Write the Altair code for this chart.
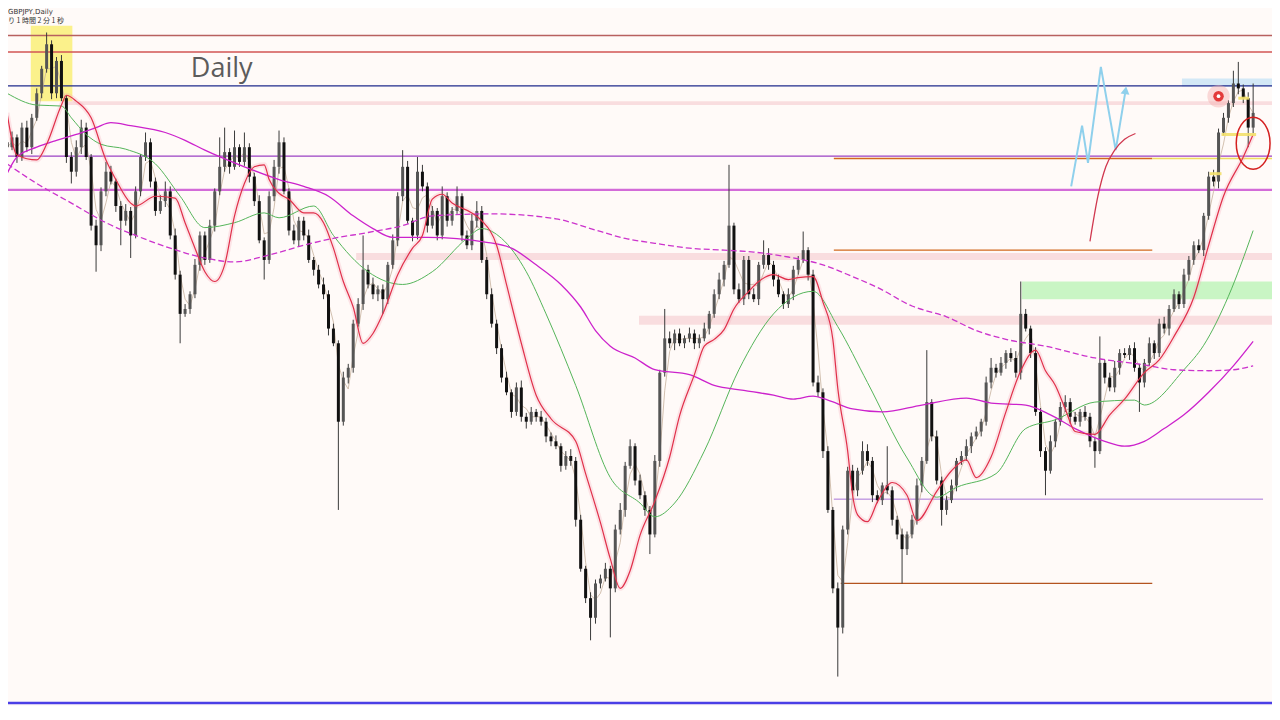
import altair as alt
import pandas as pd

# ---------------- data (GBPJPY, daily) ----------------
close = [
    185.0, 186.0, 184.0, 187.0, 185.0, 188.0, 190.5, 193.0, 195.5, 190.5,
    193.8, 190.0, 184.0, 182.5, 185.0, 187.0, 184.0, 177.0, 175.0, 180.5,
    182.5, 181.5, 179.0, 177.5, 178.5, 176.0, 180.5, 184.0, 185.5, 181.5,
    178.5, 179.5, 180.5, 176.0, 172.0, 168.0, 168.5, 170.0, 173.0, 176.0,
    173.5, 177.0, 180.5, 183.0, 184.5, 183.0, 185.0, 183.5, 185.0, 182.0,
    179.5, 175.5, 173.5, 180.0, 183.0, 185.5, 180.5, 176.5, 175.5, 177.5,
    176.0, 173.5, 172.5, 171.0, 170.0, 166.5, 165.0, 157.0, 161.5, 162.5,
    167.0, 169.0, 172.5, 171.0, 170.0, 170.5, 169.5, 173.0, 175.5, 180.0,
    183.0, 177.5, 176.0, 182.5, 181.0, 177.0, 178.5, 176.0, 180.0, 177.5,
    178.5, 180.0, 176.0, 175.0, 177.5, 178.5, 173.5, 170.0, 167.0, 164.5,
    161.5, 160.0, 158.0, 160.5, 157.5, 157.0, 158.0, 157.5, 157.0, 155.5,
    155.0, 154.5, 152.5, 153.5, 153.0, 147.0, 142.0, 139.0, 137.0, 140.5,
    141.0, 142.0, 140.0, 146.0, 148.0, 152.5, 154.5, 151.0, 149.5, 148.0,
    145.5, 153.0, 162.0, 165.5, 165.0, 166.0, 165.0, 165.5, 166.0, 165.0,
    165.5, 166.5, 168.0, 170.0, 171.5, 173.0, 177.0, 170.5, 169.5, 173.5,
    170.0, 169.5, 173.0, 174.0, 173.0, 171.5, 170.0, 169.0, 170.0, 172.5,
    173.5, 174.5, 172.0, 161.0, 160.0, 154.0, 148.0, 140.0, 136.0, 146.0,
    152.0, 150.0, 152.0, 154.0, 153.0, 149.5, 149.0, 150.5, 150.0, 147.0,
    145.5, 144.0, 145.5, 147.0, 150.5, 153.0, 159.0, 155.5, 151.0, 148.0,
    149.0, 150.5, 153.0, 153.5, 154.5, 155.5, 156.0, 157.0, 161.0, 162.5,
    162.0, 163.0, 164.0, 163.5, 162.0, 168.0, 166.5, 164.0, 158.0, 154.0,
    152.0, 155.0, 157.0, 158.5, 159.0, 157.5, 157.0, 158.0, 157.5, 155.0,
    154.0, 163.0, 161.5, 160.5, 162.5, 164.0, 163.8, 164.5, 162.5, 161.0,
    163.0, 165.0, 164.0, 167.0, 166.5, 168.5, 170.0, 169.0, 172.0, 173.5,
    175.0, 174.5, 178.0, 182.0, 181.5, 186.5, 188.0, 189.5, 191.5, 191.0,
    190.0, 187.0, 188.5,
]
first_open = 185.5
# wick lengths in tenths of a yen
up_wick = [
    4, 6, 3, 5, 7, 4, 5, 3, 12, 4,
    4, 6, 3, 5, 7, 8, 5, 3, 6, 4,
    10, 6, 3, 5, 7, 4, 5, 3, 10, 4,
    4, 6, 10, 5, 7, 4, 5, 3, 6, 4,
    4, 6, 3, 30, 25, 4, 17, 3, 15, 4,
    4, 6, 3, 5, 7, 12, 5, 3, 6, 4,
    4, 6, 3, 5, 7, 4, 5, 3, 6, 4,
    4, 6, 35, 5, 7, 4, 5, 3, 6, 4,
    17, 6, 3, 15, 7, 4, 5, 3, 10, 4,
    4, 10, 3, 5, 7, 10, 5, 3, 6, 4,
    4, 6, 3, 5, 7, 4, 5, 3, 6, 4,
    4, 6, 3, 5, 7, 4, 5, 3, 6, 4,
    4, 6, 3, 5, 7, 4, 7, 3, 6, 4,
    4, 6, 3, 30, 7, 4, 5, 3, 6, 4,
    4, 6, 3, 5, 7, 4, 62, 3, 6, 4,
    4, 6, 3, 15, 7, 4, 5, 3, 6, 4,
    4, 19, 3, 5, 7, 4, 5, 3, 6, 4,
    4, 6, 3, 10, 7, 4, 5, 3, 40, 4,
    4, 6, 3, 5, 7, 4, 53, 3, 6, 4,
    4, 6, 3, 5, 7, 4, 5, 3, 6, 10,
    4, 6, 3, 5, 7, 33, 5, 3, 6, 4,
    4, 6, 3, 5, 7, 4, 5, 3, 6, 4,
    4, 27, 3, 5, 7, 4, 5, 3, 6, 4,
    4, 6, 3, 5, 7, 4, 5, 3, 6, 4,
    4, 6, 3, 5, 7, 4, 5, 3, 13, 22,
    4, 6, 30,
]
down_wick = [
    5, 3, 6, 4, 5, 7, 3, 5, 4, 6,
    5, 3, 6, 12, 5, 7, 3, 5, 27, 6,
    5, 3, 6, 25, 5, 23, 3, 5, 4, 6,
    5, 3, 6, 4, 5, 30, 3, 5, 4, 6,
    5, 3, 6, 4, 5, 7, 3, 5, 4, 6,
    5, 3, 20, 4, 5, 7, 3, 5, 4, 6,
    5, 3, 6, 4, 5, 7, 3, 90, 4, 6,
    5, 3, 6, 4, 5, 7, 15, 5, 4, 6,
    5, 3, 6, 4, 5, 7, 3, 5, 4, 6,
    5, 3, 6, 4, 5, 7, 3, 5, 4, 6,
    5, 3, 6, 4, 5, 7, 3, 5, 4, 6,
    5, 3, 6, 4, 5, 7, 3, 5, 23, 6,
    5, 3, 50, 4, 5, 7, 3, 5, 4, 6,
    20, 3, 6, 4, 5, 7, 3, 5, 4, 6,
    5, 3, 6, 4, 5, 7, 3, 5, 4, 6,
    5, 3, 6, 4, 5, 7, 3, 5, 4, 6,
    5, 3, 6, 4, 5, 7, 3, 5, 50, 6,
    5, 3, 6, 4, 5, 7, 3, 5, 4, 6,
    5, 35, 6, 4, 5, 7, 3, 5, 4, 16,
    5, 3, 6, 4, 5, 7, 3, 5, 4, 6,
    5, 3, 6, 4, 5, 7, 3, 5, 4, 6,
    25, 3, 6, 4, 5, 7, 3, 5, 4, 6,
    17, 3, 6, 4, 5, 7, 3, 5, 4, 30,
    5, 3, 6, 4, 5, 7, 3, 5, 4, 6,
    5, 3, 6, 4, 5, 7, 3, 5, 4, 6,
    5, 20, 6,
]

# moving averages (bar index, price)
red_i = [0, 2, 6, 8, 11, 12, 14, 17, 20, 22, 25, 26, 30, 34, 36, 38, 40, 42, 44, 46,
         48, 50, 52, 53, 55, 57, 60, 62, 64, 66, 68, 70, 72, 74, 76, 79, 82, 84, 86, 88,
         90, 94, 96, 99, 101, 104, 107, 110, 115, 117, 120, 122, 124, 126, 128, 131, 134,
         136, 139, 141, 143, 145, 147, 150, 152, 155, 158, 160, 163, 165, 167, 168, 170,
         171, 172, 174, 176, 179, 182, 184, 188, 191, 194, 196, 199, 202, 205, 208, 210,
         212, 214, 216, 220, 223, 226, 230, 233, 236, 240, 243, 246, 250, 252]
red_p = [188.5, 184.2, 183.7, 185.3, 189.3, 190.3, 189.7, 188.0, 183.7, 181.7, 179.3, 179.0,
         180.0, 179.8, 177.3, 174.7, 172.3, 171.3, 173.0, 178.0,
         181.3, 183.0, 183.2, 181.7, 180.3, 179.7, 178.3, 178.3, 177.3, 174.7, 171.3, 168.7,
         165.0, 166.0, 168.0, 172.0, 174.7, 176.0, 179.7, 180.2,
         179.3, 178.3, 177.5, 175.0, 171.0, 165.0, 159.7, 157.3, 155.0, 151.7, 146.7, 143.0,
         140.0, 141.8, 145.4, 148.9, 153.4,
         157.6, 161.8, 164.7, 165.4, 166.4, 168.5, 170.3, 171.3, 172.0, 171.5, 171.7, 171.8,
         169.2, 165.4, 160.4, 154.0,
         149.5, 147.5, 146.8, 148.8, 150.8, 149.5, 146.9, 149.9, 152.0, 153.1, 151.3, 153.4,
         158.0, 162.2, 164.3, 162.2,
         160.7, 158.3, 156.0, 155.7, 157.7, 159.3, 162.0, 163.3, 165.7, 169.7, 175.0, 180.0,
         184.0, 186.3]

green_i = [0, 6, 11, 13, 16, 19, 24, 30, 35, 40, 46, 52, 55, 62, 66, 73, 80, 86, 93, 96,
           100, 105, 109, 115, 122, 128, 131, 135, 141, 148, 155, 163, 168, 174, 182, 188,
           192, 200, 206, 212, 220, 228, 230, 238, 242, 247, 252]
green_p = [190.5, 189.3, 189.2, 188.0, 186.3, 185.3, 184.8, 183.3, 180.0, 176.8, 177.3,
           178.3, 177.8, 179.0, 176.0, 172.3, 171.0, 172.3, 175.7, 176.7,
           175.7, 172.3, 168.0, 160.7, 151.3, 148.7, 147.3, 148.7, 154.0, 162.3, 168.0,
           170.3, 166.7, 161.0, 153.3, 149.3,
           150.3, 151.7, 156.3, 157.2, 159.0, 159.2, 158.7, 162.3, 164.8, 169.8, 176.5]

mag_i = [0, 2, 6, 10, 14, 18, 21, 25, 32, 36, 40, 48, 55, 60, 65, 70, 74, 78, 85, 97,
         102, 107, 112, 116, 119, 122, 127, 131, 138, 143, 149, 155, 159, 163, 166, 171,
         177, 185, 194, 199, 206, 211, 216, 222, 226, 230, 234, 238, 243, 248, 252]
mag_p = [182.3, 184.0, 185.0, 185.7, 186.3, 187.0, 187.5, 187.2, 186.5, 185.7, 184.7,
         183.0, 181.7, 181.0, 180.0, 178.0, 176.7, 175.8, 175.8, 175.3,
         174.7, 173.0, 171.0, 168.7, 166.3, 164.7, 163.5, 162.3, 161.8, 160.7, 160.2,
         159.7, 159.3, 159.6, 159.2, 158.3,
         158.0, 158.7, 159.4, 158.9, 158.7, 157.7, 156.3, 155.0, 154.5, 155.0, 156.3,
         157.7, 160.0, 162.7, 165.2]

dash_i = [0, 6, 13, 20, 26, 33, 40, 46, 53, 60, 66, 73, 80, 86, 98, 111, 118, 125, 131,
          138, 145, 151, 158, 165, 171, 176, 183, 190, 196, 202, 210, 220, 230, 236, 243,
          248, 252]
dash_p = [183.3, 181.3, 179.3, 177.3, 176.0, 174.7, 173.7, 173.3, 174.0, 175.0, 175.7,
          176.3, 177.0, 178.0, 178.2, 177.7, 176.7, 175.7, 175.2,
          174.7, 174.5, 174.3, 173.8, 173.0, 171.8, 170.7, 168.8, 167.7, 166.3, 165.4,
          164.7, 163.5, 162.8, 162.3, 162.2, 162.3, 162.7]

# horizontal levels: price, from bar, to bar
level_p = [196.4, 194.7, 191.25, 184.1, 183.85, 183.85, 180.65, 174.5, 149.1, 140.5, 128.3]
level_from = [-5, -5, -5, -5, 167.2, 231.6, -5, 167.2, 167.2, 168.6, -5]
level_to = [260, 260, 260, 260, 231.6, 260, 260, 231.6, 254.0, 231.6, 260]
level_color = ["#b8605f", "#d25454", "#1f2a8c", "#9b40c4", "#d2691e", "#f0dc60",
               "#d36bd8", "#d2691e", "#a874d8", "#b4531f", "#4a3fe6"]
level_width = [1.5, 1.5, 1.3, 1.3, 1.3, 1.5, 2.2, 1.3, 1.0, 1.3, 2.6]

# zones: price low, price high, from bar, to bar
zone_lo = [189.3, 173.5, 166.9, 169.5, 191.2, 189.7]
zone_hi = [189.7, 174.2, 167.8, 171.3, 192.0, 197.4]
zone_from = [11.6, 70.6, 127.8, 205.2, 237.6, 4.8]
zone_to = [260, 260, 260, 260, 260, 13.2]
zone_color = ["#f8d9dc", "#f8d9dc", "#f8d9dc", "#c9f5c4", "#d3e8f6", "#fbf07e"]
zone_opacity = [0.9, 0.9, 0.9, 1.0, 1.0, 0.9]

# yellow marker segments near the last bars
yseg_p = [190.0, 186.3, 182.3]
yseg_from = [249.0, 245.6, 243.2]
yseg_to = [251.2, 252.6, 245.6]

# hand-drawn annotations
zig_i = [215.2, 217.4, 218.6, 221.2, 224.2, 226.2]
zig_p = [181.0, 187.2, 183.4, 193.2, 184.7, 190.8]
curve_i = [219.0, 220.6, 222.2, 224.0, 226.0, 228.2]
curve_p = [175.4, 180.0, 183.0, 184.7, 185.8, 186.4]
dot_i, dot_p = 245.0, 190.2
ring_i, ring_p = 252.0, 185.4
label_i, label_p = 43.4, 193.0

# ---------------- build tables ----------------
rows = []
prev = first_open
for k, c in enumerate(close):
    o = prev
    rows.append(dict(i=k, o=o, c=c,
                     h=max(o, c) + up_wick[k] / 10.0,
                     l=min(o, c) - down_wick[k] / 10.0,
                     col="#555555" if c >= o else "#111111"))
    prev = c
candles = pd.DataFrame(rows)
fast = pd.DataFrame({"i": candles["i"], "p": candles["c"].rolling(3, min_periods=1).mean()})

XS = alt.Scale(domain=[1.2, 254.8], nice=False, zero=False)
YS = alt.Scale(domain=[128.0, 199.2], nice=False, zero=False)


def X(f="i"):
    return alt.X(f"{f}:Q", scale=XS, axis=None)


def Y(f="p"):
    return alt.Y(f"{f}:Q", scale=YS, axis=None)


def series(ix, px):
    return pd.DataFrame({"i": ix, "p": px, "k": list(range(len(ix)))})


layers = []

for lo, hi, a, b, col, op in zip(zone_lo, zone_hi, zone_from, zone_to, zone_color, zone_opacity):
    d = pd.DataFrame({"i": [a], "i2": [b], "p": [lo], "p2": [hi]})
    layers.append(alt.Chart(d).mark_rect(color=col, opacity=op, clip=True).encode(
        x=X(), x2="i2:Q", y=Y(), y2="p2:Q"))

for p, a, b, col, w in zip(level_p, level_from, level_to, level_color, level_width):
    d = pd.DataFrame({"i": [a], "i2": [b], "p": [p]})
    layers.append(alt.Chart(d).mark_rule(color=col, strokeWidth=w, clip=True).encode(
        x=X(), x2="i2:Q", y=Y()))

red = series(red_i, red_p)
layers.append(alt.Chart(red).mark_line(color="#f5aab8", strokeWidth=5, opacity=0.28,
                                       interpolate="monotone", clip=True).encode(
    x=X(), y=Y(), order="k:Q"))
layers.append(alt.Chart(fast).mark_line(color="#c7b29e", strokeWidth=1, opacity=0.8,
                                        clip=True).encode(x=X(), y=Y()))

layers.append(alt.Chart(candles).mark_rule(color="#3a3a3a", strokeWidth=1, clip=True).encode(
    x=X(), y=Y("l"), y2="h:Q"))
layers.append(alt.Chart(candles).mark_bar(size=3, clip=True).encode(
    x=X(), y=Y("o"), y2="c:Q", color=alt.Color("col:N", scale=None)))

layers.append(alt.Chart(series(green_i, green_p)).mark_line(
    color="#55b55a", strokeWidth=1, interpolate="monotone", clip=True).encode(
    x=X(), y=Y(), order="k:Q"))
layers.append(alt.Chart(series(mag_i, mag_p)).mark_line(
    color="#cc22cc", strokeWidth=1.3, interpolate="monotone", clip=True).encode(
    x=X(), y=Y(), order="k:Q"))
layers.append(alt.Chart(series(dash_i, dash_p)).mark_line(
    color="#cc33cc", strokeWidth=1.3, strokeDash=[6, 3], interpolate="monotone",
    clip=True).encode(x=X(), y=Y(), order="k:Q"))
layers.append(alt.Chart(red).mark_line(color="#e0304a", strokeWidth=1.2,
                                       interpolate="monotone", clip=True).encode(
    x=X(), y=Y(), order="k:Q"))

for p, a, b in zip(yseg_p, yseg_from, yseg_to):
    d = pd.DataFrame({"i": [a], "i2": [b], "p": [p]})
    layers.append(alt.Chart(d).mark_rule(color="#f3e06a", strokeWidth=3, opacity=0.9).encode(
        x=X(), x2="i2:Q", y=Y()))

zig = series(zig_i, zig_p)
layers.append(alt.Chart(zig).mark_line(color="#8fd0ec", strokeWidth=2).encode(
    x=X(), y=Y(), order="k:Q"))
layers.append(alt.Chart(zig.tail(1)).mark_point(
    shape="triangle-up", angle=9, size=80, filled=True, color="#8fd0ec", opacity=1).encode(
    x=X(), y=Y()))
layers.append(alt.Chart(series(curve_i, curve_p)).mark_line(
    color="#d0384f", strokeWidth=1.3, interpolate="monotone").encode(
    x=X(), y=Y(), order="k:Q"))

dot = pd.DataFrame({"i": [dot_i], "p": [dot_p]})
layers.append(alt.Chart(dot).mark_circle(size=500, color="#f5b0b0", opacity=0.45).encode(x=X(), y=Y()))
layers.append(alt.Chart(dot).mark_circle(size=110, color="#e33a3a", opacity=1).encode(x=X(), y=Y()))
layers.append(alt.Chart(dot).mark_circle(size=14, color="#ffffff", opacity=1).encode(x=X(), y=Y()))

ellipse = ("M0.65,0 C0.65,0.552 0.359,1 0,1 C-0.359,1 -0.65,0.552 -0.65,0 "
           "C-0.65,-0.552 -0.359,-1 0,-1 C0.359,-1 0.65,-0.552 0.65,0 Z")
ring = pd.DataFrame({"i": [ring_i], "p": [ring_p]})
layers.append(alt.Chart(ring).mark_point(shape=ellipse, size=2704, filled=False,
                                         color="#d42020", strokeWidth=1.5, opacity=1).encode(
    x=X(), y=Y()))

lab = pd.DataFrame({"i": [label_i], "p": [label_p]})
layers.append(alt.Chart(lab).mark_text(text="Daily", font="Open Sans", fontSize=27,
                                       color="#5c5c5c", align="center", baseline="middle").encode(
    x=X(), y=Y()))

one = pd.DataFrame({"a": [0]})
layers.append(alt.Chart(one).mark_text(text="GBPJPY,Daily", fontSize=7, color="#333333",
                                       align="left", baseline="top", font="DejaVu Sans").encode(
    x=alt.value(0), y=alt.value(0)))
layers.append(alt.Chart(one).mark_text(text="り 1 時間 2 分 1 秒", fontSize=7, color="#333333",
                                       align="left", baseline="top",
                                       font="Noto Sans CJK JP").encode(
    x=alt.value(0), y=alt.value(9)))

chart = alt.layer(*layers).properties(
    width=1264, height=698, background="#fffaf8", padding=0,
    autosize=alt.AutoSizeParams(type="none"),
).configure_view(stroke=None)

chart.save("out.html", embed_options={"renderer": "svg", "actions": False})
